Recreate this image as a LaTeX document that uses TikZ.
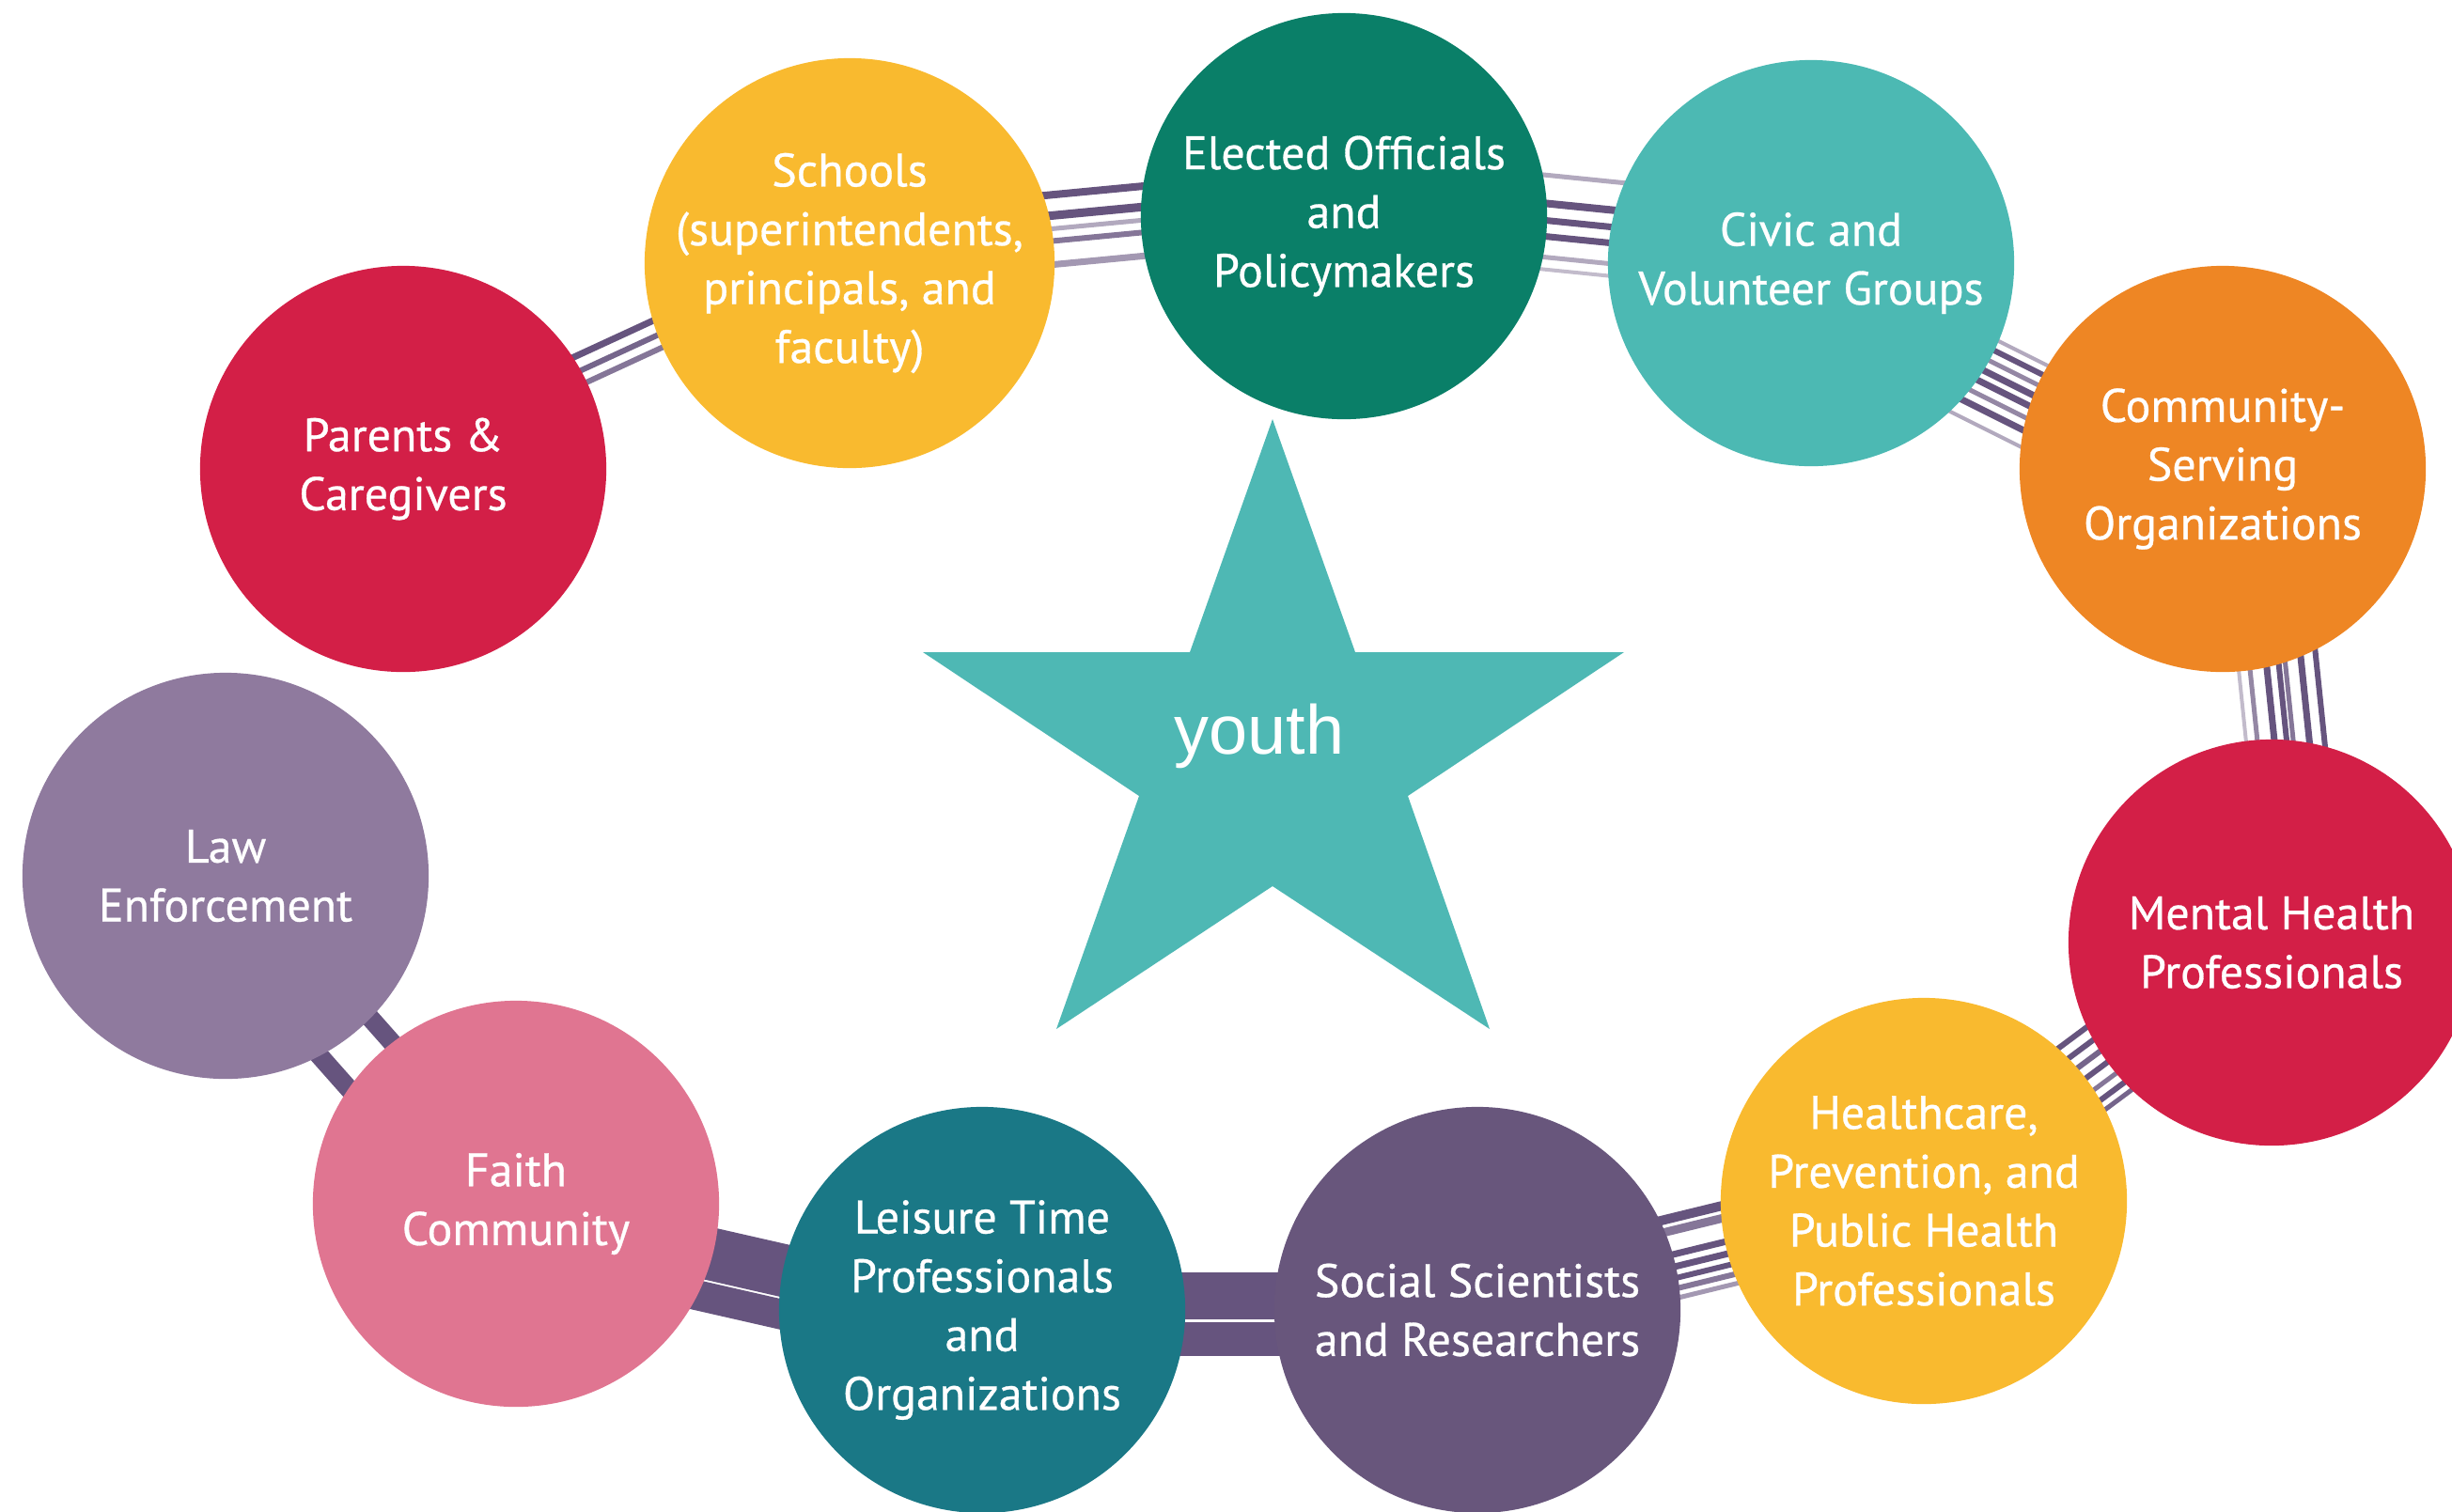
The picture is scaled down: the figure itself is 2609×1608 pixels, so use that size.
\documentclass[tikz,border=0pt]{standalone}
\usepackage{fontspec}
\setmainfont{PT Sans}
\newfontfamily\groupfont{PT Sans}[FakeBold=0.6]
\newfontfamily\starfont{Liberation Sans}
\usetikzlibrary{calc}

\definecolor{crimson}{HTML}{D31F47}
\definecolor{sunflower}{HTML}{F9BA2F}
\definecolor{pine}{HTML}{0A7F68}
\definecolor{seafoam}{HTML}{4CB9B3}
\definecolor{tangerine}{HTML}{EE8624}
\definecolor{plum}{HTML}{68567C}
\definecolor{petrol}{HTML}{1A7886}
\definecolor{blush}{HTML}{E07591}
\definecolor{lilac}{HTML}{8F7A9E}
\definecolor{startint}{HTML}{4EB8B4}
\definecolor{ink}{HTML}{66547E}

\pgfdeclarelayer{links}
\pgfsetlayers{links,main}

% brush strokes between two circles: offset/width/opacity
\def\brush(#1)(#2)#3{\foreach \off/\wd/\op in {#3}{\draw[ink, line width=\wd, draw opacity=\op] ($(#1)!\off!90:(#2)$) -- ($(#2)!\off!-90:(#1)$);}}

\tikzset{
	group/.style={circle, fill=#1, minimum size=4.32cm, inner sep=0pt, text=white, align=center,
		font=\groupfont\fontsize{14.2pt}{17.8pt}\selectfont},
}

\begin{document}
\begin{tikzpicture}[x=0.01cm, y=-0.01cm]
		%%%%% START %%%%%
		\useasboundingbox (0, 0) rectangle (2609, 1608);
		\clip (0, 0) rectangle (2609, 1608);
		
		\node[group=crimson] (parents) at (429, 499) {Parents \&\\Caregivers};
		\node[group=sunflower] (schools) at (904, 280) {Schools\\(superintendents,\\principals, and\\faculty)};
		\node[group=pine] (elected) at (1430, 230) {Elected Officials\\and\\Policymakers};
		\node[group=seafoam] (civic) at (1927, 280) {Civic and\\Volunteer Groups};
		\node[group=tangerine] (community) at (2365, 499) {Community-\\Serving\\Organizations};
		\node[group=crimson] (mental) at (2417, 1003) {Mental Health\\Professionals};
		\node[group=sunflower] (health) at (2047, 1278) {Healthcare,\\Prevention, and\\Public Health\\Professionals};
		\node[group=plum] (social) at (1572, 1394) {Social Scientists\\and Researchers};
		\node[group=petrol] (leisure) at (1045, 1394) {Leisure Time\\Professionals\\and\\Organizations};
		\node[group=blush] (faith) at (549, 1281) {Faith\\Community};
		\node[group=lilac] (law) at (240, 932) {Law\\Enforcement};
		
		% star
		\fill[startint] (1354, 446) -- (1442, 694) -- (1728, 694) -- (1498, 847) -- (1585, 1095)
			-- (1354, 943) -- (1124, 1095) -- (1212, 847) -- (982, 694) -- (1266, 694) -- cycle;
		\node[anchor=base, text=white, font=\starfont\fontsize{21pt}{25pt}\selectfont] (youth) at (1340, 802) {youth};
		
		\begin{pgfonlayer}{links}
			\brush(parents)(schools){3.2mm/0.7mm/1, 1.6mm/0.6mm/0.9, 0.2mm/0.6mm/0.8}
			\brush(schools)(elected){5.2mm/0.8mm/1, 3mm/0.9mm/1, 1.6mm/0.5mm/0.5, 0.3mm/0.6mm/0.8, -2.2mm/0.7mm/0.6}
			\brush(elected)(civic){6.5mm/0.5mm/0.5, 3.5mm/0.8mm/1, 1.7mm/0.7mm/1, 0mm/0.7mm/1, -2.2mm/0.5mm/0.5, -3.5mm/0.4mm/0.4}
			\brush(civic)(community){1.5mm/0.4mm/0.5, 0.4mm/0.6mm/1, -0.8mm/0.5mm/0.7, -2mm/0.7mm/1, -3.2mm/0.7mm/1, -4.5mm/0.5mm/0.7, -5.8mm/0.7mm/1, -7.5mm/0.4mm/0.5}
			\brush(community)(mental){-0.5mm/0.4mm/0.4, 0.7mm/0.5mm/0.7, 2.5mm/0.7mm/1, 3.8mm/0.6mm/1, 4.5mm/0.5mm/0.8, 6.2mm/0.7mm/1, 7.8mm/0.6mm/1}
			\brush(mental)(health){-4.5mm/0.6mm/1, -3mm/0.6mm/1, -1.6mm/0.6mm/0.9, -0.2mm/0.6mm/1, 1.3mm/0.5mm/0.8, 2.6mm/0.6mm/1, 3.7mm/0.5mm/0.9}
			\brush(health)(social){-4.6mm/1mm/1, -3.3mm/0.9mm/0.8, -0.8mm/0.7mm/1, 0.5mm/0.7mm/1, 1.7mm/0.6mm/1, 2.8mm/0.6mm/0.8, 3.8mm/0.5mm/0.6}
			\brush(social)(leisure){-1.5mm/5mm/1, 3.1mm/3.6mm/1}
			\brush(leisure)(faith){0.6mm/5.6mm/1, 5.2mm/3.2mm/1}
			\brush(law)(faith){1.5mm/2mm/1, -5.2mm/2mm/1}
		\end{pgfonlayer}
		
		%%%%% END %%%%%
\end{tikzpicture}
\end{document}
